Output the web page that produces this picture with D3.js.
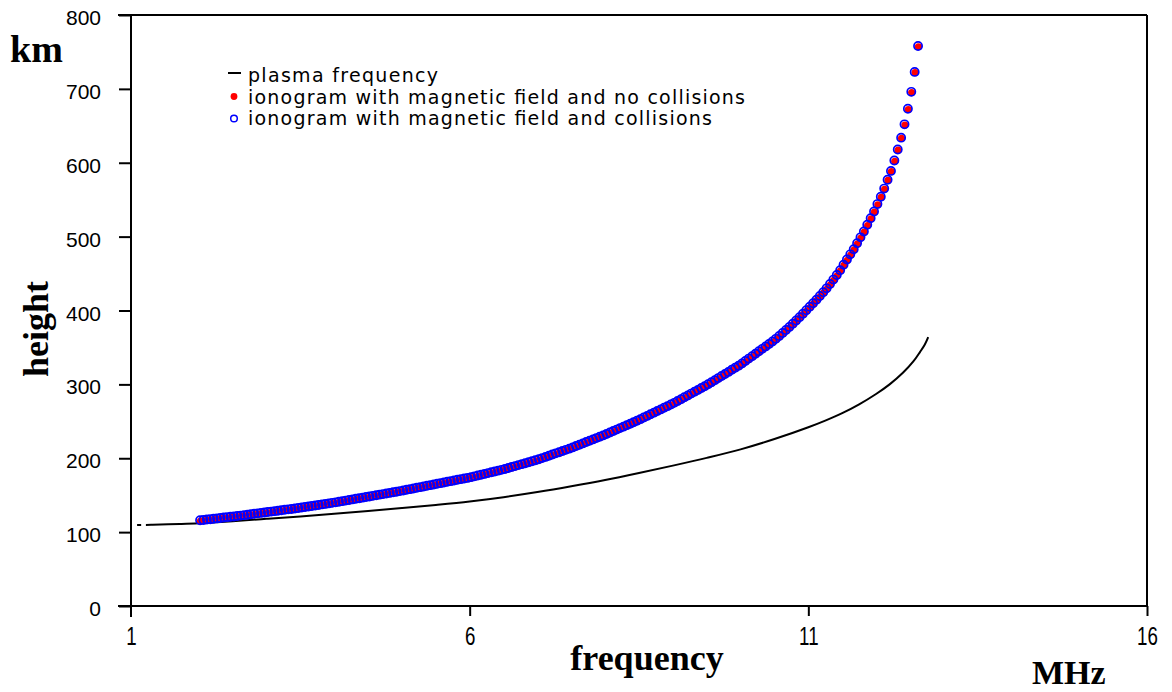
<!DOCTYPE html>
<html>
<head>
<meta charset="utf-8">
<script src="https://cdn.jsdelivr.net/npm/d3@7"></script>
<style>
  html, body { margin: 0; padding: 0; background: #fff; }
  svg { display: block; }
</style>
</head>
<body>
<svg id="chart" width="1172" height="692"></svg>
<script>
// ---- tick values ----
const freqTicks = [1, 6, 11, 16];
const heightTicks = [0, 100, 200, 300, 400, 500, 600, 700, 800];

// ---- legend labels ----
const legendLabels = [
  "plasma frequency",
  "ionogram with magnetic field and no collisions",
  "ionogram with magnetic field and collisions"
];

// ---- plasma frequency profile (MHz, km); NaN marks a gap in the drawn line ----
const plasmaFreq = [1.09, 1.15, NaN, 1.22, 1.32, 1.72, 2.0, 2.5, 3.0, 3.5, 4.0, 4.5, 5.0, 5.5, 6.0, 6.5, 7.0, 7.5, 8.0, 8.5, 9.0, 9.5, 10.0, 10.5, 11.0, 11.25, 11.5, 11.75, 12.0, 12.2, 12.4, 12.55, 12.65, 12.72, 12.77];
const plasmaHeight = [109.5, 109.6, NaN, 109.8, 110.0, 111.0, 112.0, 114.8, 118.0, 121.3, 124.8, 128.6, 132.6, 136.8, 141.5, 147.3, 154.2, 162.0, 170.5, 180.0, 190.0, 200.5, 212.0, 226.0, 242.0, 251.0, 261.0, 273.0, 287.0, 300.0, 316.0, 331.0, 344.0, 354.0, 364.0];

// ---- ionogram sounding frequencies (MHz) ----
const ionoFreq = [
  2.02,2.07,2.12,2.17,2.22,2.27,2.32,2.37,2.42,2.47,
  2.52,2.57,2.62,2.67,2.72,2.77,2.82,2.87,2.92,2.97,
  3.02,3.07,3.12,3.17,3.22,3.27,3.32,3.37,3.42,3.47,
  3.52,3.57,3.62,3.67,3.72,3.77,3.82,3.87,3.92,3.97,
  4.02,4.07,4.12,4.17,4.22,4.27,4.32,4.37,4.42,4.47,
  4.52,4.57,4.62,4.67,4.72,4.77,4.82,4.87,4.92,4.97,
  5.02,5.07,5.12,5.17,5.22,5.27,5.32,5.37,5.42,5.47,
  5.52,5.57,5.62,5.67,5.72,5.77,5.82,5.87,5.92,5.97,
  6.02,6.07,6.12,6.17,6.22,6.27,6.32,6.37,6.42,6.47,
  6.52,6.57,6.62,6.67,6.72,6.77,6.82,6.87,6.92,6.97,
  7.02,7.07,7.12,7.17,7.22,7.27,7.32,7.37,7.42,7.47,
  7.52,7.57,7.62,7.67,7.72,7.77,7.82,7.87,7.92,7.97,
  8.02,8.07,8.12,8.17,8.22,8.27,8.32,8.37,8.42,8.47,
  8.52,8.57,8.62,8.67,8.72,8.77,8.82,8.87,8.92,8.97,
  9.02,9.07,9.12,9.17,9.22,9.27,9.32,9.37,9.42,9.47,
  9.52,9.57,9.62,9.67,9.72,9.77,9.82,9.87,9.92,9.97,
  10.02,10.07,10.12,10.17,10.22,10.27,10.32,10.37,10.42,10.47,
  10.52,10.57,10.62,10.67,10.72,10.77,10.82,10.87,10.92,10.97,
  11.02,11.07,11.12,11.17,11.22,11.27,11.32,11.37,11.42,11.47,
  11.52,11.57,11.62,11.67,11.72,11.77,11.82,11.87,11.92,11.97,
  12.02,12.07,12.12,12.17,12.22,12.27,12.32,12.37,12.42,12.47,12.52,12.57,12.62
];

// ---- virtual height, magnetic field, no collisions (km) ----
const heightNoCollisions = [
  116.0,116.5,117.0,117.5,118.1,118.6,119.2,119.7,120.3,120.8,
  121.2,121.8,122.4,123.0,123.6,124.2,124.8,125.4,126.0,126.6,
  127.2,127.8,128.4,129.0,129.6,130.2,130.8,131.4,132.0,132.6,
  133.3,134.0,134.7,135.4,136.1,136.8,137.5,138.2,138.9,139.6,
  140.3,141.1,141.9,142.7,143.5,144.3,145.1,145.9,146.7,147.5,
  148.3,149.1,149.9,150.7,151.5,152.3,153.1,153.9,154.7,155.5,
  156.4,157.3,158.2,159.1,160.0,160.9,161.8,162.7,163.6,164.5,
  165.4,166.3,167.2,168.1,169.0,169.9,170.8,171.7,172.6,173.4,
  174.4,175.5,176.6,177.7,178.8,179.9,181.0,182.1,183.2,184.3,
  185.5,186.8,188.1,189.4,190.7,192.0,193.3,194.6,195.9,197.2,
  198.6,200.2,201.8,203.4,205.0,206.6,208.2,209.8,211.4,213.0,
  214.7,216.5,218.3,220.1,221.9,223.7,225.5,227.3,229.1,230.9,
  232.8,234.8,236.8,238.8,240.8,242.8,244.8,246.8,248.8,250.8,
  252.9,255.1,257.3,259.5,261.7,263.9,266.1,268.3,270.5,272.7,
  275.0,277.5,280.0,282.5,285.0,287.5,290.0,292.5,295.0,297.5,
  300.1,302.9,305.7,308.5,311.3,314.1,316.9,319.7,322.5,325.3,
  328.3,331.6,334.9,338.2,341.5,344.8,348.1,351.4,354.7,358.0,
  361.6,365.5,369.5,373.6,377.8,382.1,386.5,391.0,395.6,400.3,
  405.0,409.8,414.7,419.7,424.8,430.0,435.8,441.8,448.0,454.6,
  462,469,476,483,491,499,507,516,525,534,
  544,554,565,577,589,603,618,634,652,673,696,723,758
];

// ---- virtual height, magnetic field and collisions (km): indistinguishable from the above ----
const heightCollisions = heightNoCollisions.slice();

// ---- layout ----
const svg = d3.select("#chart");
const x = d3.scaleLinear().domain([1, 16]).range([131, 1147]);
const y = d3.scaleLinear().domain([0, 800]).range([606, 15]);

svg.append("rect").attr("width", 1172).attr("height", 692).attr("fill", "#fff");

// frame lines
const frame = svg.append("g").attr("stroke", "#000").attr("stroke-width", 2).attr("fill", "none");
frame.append("line").attr("x1", x(1)).attr("x2", x(1)).attr("y1", y(800)).attr("y2", y(0) + 11);
frame.append("line").attr("x1", x(1) - 13).attr("x2", x(16)).attr("y1", y(0)).attr("y2", y(0));
frame.append("line").attr("x1", x(1) - 13).attr("x2", x(16)).attr("y1", y(800)).attr("y2", y(800));
frame.append("line").attr("x1", x(16)).attr("x2", x(16)).attr("y1", y(800)).attr("y2", y(0));

// y axis
const yAxis = d3.axisLeft(y).tickValues(heightTicks).tickSize(12).tickPadding(18).tickFormat(d3.format("d"));
const gy = svg.append("g").attr("transform", `translate(${x(1)},0)`).call(yAxis);
gy.select(".domain").remove();
gy.selectAll(".tick line").attr("stroke", "#000").attr("stroke-width", 2);
gy.selectAll(".tick text")
  .attr("font-family", "'Liberation Sans', Arial, sans-serif")
  .attr("font-size", 21).attr("fill", "#000").attr("dy", "9.5px");

// x axis
const xAxis = d3.axisBottom(x).tickValues(freqTicks).tickSize(10).tickPadding(10).tickFormat(d3.format("d"));
const gx = svg.append("g").attr("transform", `translate(0,${y(0)})`).call(xAxis);
gx.select(".domain").remove();
gx.selectAll(".tick line").attr("stroke", "#000").attr("stroke-width", 2)
  .attr("display", d => d === 1 ? "none" : null);
gx.selectAll(".tick text")
  .attr("font-family", "'Liberation Sans', Arial, sans-serif")
  .attr("font-size", 26).attr("fill", "#000").attr("dy", "0.35em").attr("y", 30)
  .attr("transform", "scale(0.72,1)");

// axis titles
const serif = "'Liberation Serif', 'Times New Roman', serif";
svg.append("text").text("km").attr("x", 10).attr("y", 62)
  .attr("font-family", serif).attr("font-size", 38).attr("font-weight", "bold");
svg.append("text").text("height").attr("transform", "translate(48,329) rotate(-90)")
  .attr("text-anchor", "middle").attr("font-family", serif).attr("font-size", 36).attr("font-weight", "bold");
svg.append("text").text("frequency").attr("x", 647).attr("y", 670).attr("text-anchor", "middle")
  .attr("font-family", serif).attr("font-size", 36).attr("font-weight", "bold");
svg.append("text").text("MHz").attr("x", 1032).attr("y", 684)
  .attr("font-family", serif).attr("font-size", 34).attr("font-weight", "bold");

// plasma frequency line
const plasma = plasmaFreq.map((f, i) => ({ f, h: plasmaHeight[i] }));
const line = d3.line().defined(d => !isNaN(d.f) && !isNaN(d.h))
  .x(d => x(d.f)).y(d => y(d.h)).curve(d3.curveCatmullRom.alpha(0.5));
svg.append("path").datum(plasma).attr("d", line)
  .attr("fill", "none").attr("stroke", "#000").attr("stroke-width", 2);

// ionogram without collisions (red filled dots)
svg.append("g").selectAll("circle").data(ionoFreq).join("circle")
  .attr("cx", (f) => x(f) + 0.4).attr("cy", (f, i) => y(heightNoCollisions[i]) + 0.7)
  .attr("r", 3.6).attr("fill", "#ff0000");

// ionogram with collisions (blue open circles)
svg.append("g").selectAll("circle").data(ionoFreq).join("circle")
  .attr("cx", (f) => x(f)).attr("cy", (f, i) => y(heightCollisions[i]))
  .attr("r", 4.1).attr("fill", "none").attr("stroke", "#0000ff").attr("stroke-width", 1.7);

// legend
const lg = svg.append("g");
const sans = "'DejaVu Sans', 'Liberation Sans', sans-serif";
const legendY = [81.5, 103.5, 124.5];
const legendW = [190, 497, 464];
lg.append("line").attr("x1", 228).attr("x2", 241).attr("y1", 73).attr("y2", 73)
  .attr("stroke", "#000").attr("stroke-width", 2);
lg.append("circle").attr("cx", 234).attr("cy", 96.5).attr("r", 3.4).attr("fill", "#ff0000");
lg.append("circle").attr("cx", 234).attr("cy", 118.5).attr("r", 3.3)
  .attr("fill", "none").attr("stroke", "#0000ff").attr("stroke-width", 1.5);
lg.selectAll("text").data(legendLabels).join("text")
  .text(d => d).attr("x", 248).attr("y", (d, i) => legendY[i])
  .attr("font-family", sans).attr("font-size", 19).attr("fill", "#000")
  .attr("textLength", (d, i) => legendW[i]).attr("lengthAdjust", "spacing");
</script>
</body>
</html>
